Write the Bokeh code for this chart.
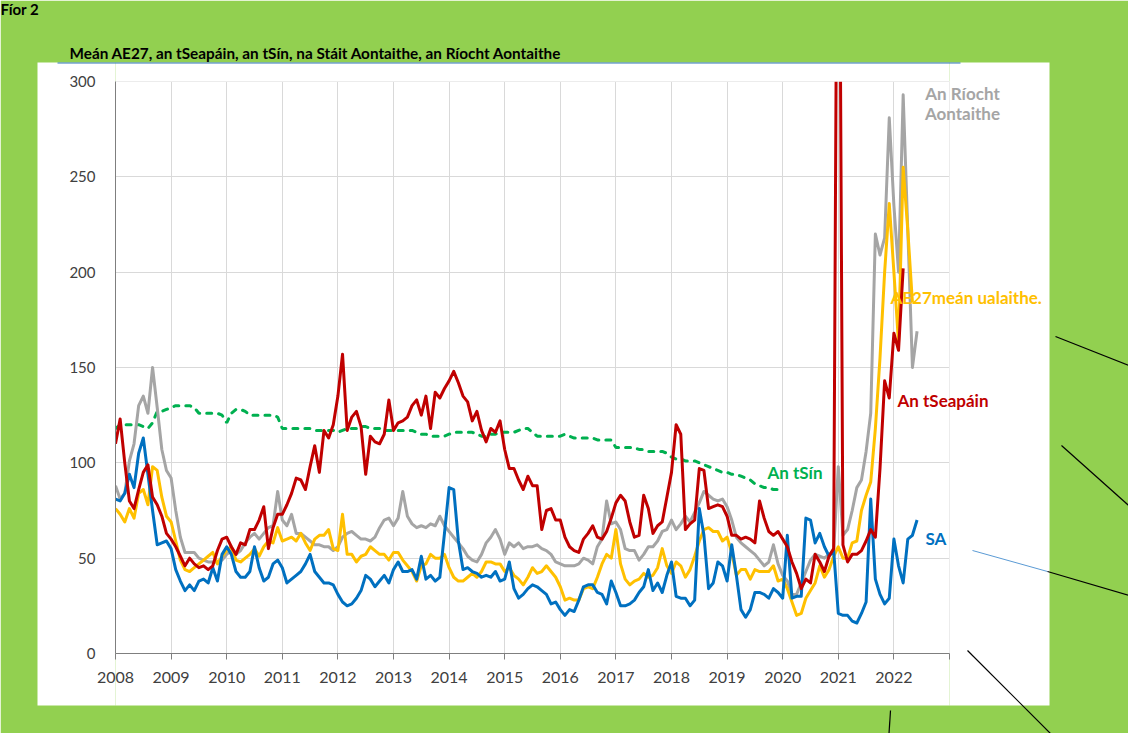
import numpy as np
from bokeh.plotting import figure
from bokeh.models import Range1d, FixedTicker
from bokeh.core.properties import value
from bokeh.embed import file_html
from bokeh.resources import INLINE

# ---------------- data (monthly, from Jan 2008) ----------------
START_YEAR = 2008
YEAR_TICKS = list(range(2008, 2024))
YEAR_LABELS = [str(y) for y in range(2008, 2023)] + [""]
Y_TICKS = [0, 50, 100, 150, 200, 250, 300]

japan = [110, 123, 100, 80, 76, 86, 95, 99, 82, 78, 72, 63, 60, 56, 51, 46, 50, 47, 45, 46,
         44, 46, 54, 60, 61, 56, 52, 58, 57, 65, 65, 70, 77, 55, 66, 73, 73, 78, 84, 92,
         91, 86, 98, 109, 95, 117, 113, 120, 135, 157, 117, 124, 127, 119, 94, 114, 111, 110, 115, 133,
         117, 121, 122, 124, 130, 133, 125, 135, 118, 137, 134, 139, 143, 148, 142, 135, 132, 122, 127, 117,
         111, 118, 116, 122, 107, 97, 97, 91, 86, 93, 88, 88, 65, 75, 76, 70, 70, 61, 56, 54,
         53, 60, 63, 67, 61, 60, 64, 71, 79, 83, 80, 69, 61, 62, 83, 76, 63, 67, 69, 82,
         95, 120, 115, 65, 68, 70, 97, 96, 76, 77, 78, 77, 72, 62, 62, 60, 61, 60, 58, 80,
         71, 64, 62, 64, 60, 56, 48, 42, 34, 39, 37, 52, 48, 43, 51, 55, 530, 57, 48, 52,
         52, 54, 59, 65, 61, 97, 143, 134, 168, 159, 202]

uk = [88, 81, 84, 101, 110, 130, 135, 126, 150, 129, 107, 96, 92, 75, 61, 53, 53, 53, 50, 49,
      48, 48, 48, 49, 52, 54, 52, 54, 58, 61, 63, 60, 63, 66, 67, 85, 70, 67, 73, 63,
      63, 61, 59, 57, 57, 56, 56, 54, 56, 61, 63, 64, 62, 60, 60, 59, 61, 66, 70, 71,
      67, 71, 85, 72, 68, 66, 67, 66, 68, 67, 72, 67, 64, 61, 58, 55, 51, 49, 48, 52,
      58, 61, 65, 60, 52, 58, 56, 58, 55, 56, 56, 57, 55, 54, 52, 48, 47, 46, 46, 46,
      47, 50, 49, 47, 56, 60, 80, 68, 69, 65, 55, 54, 54, 49, 52, 56, 56, 59, 64, 65,
      70, 65, 68, 72, 69, 74, 79, 85, 83, 81, 80, 81, 77, 70, 61, 58, 56, 54, 52, 49,
      46, 48, 57, 47, 41, 38, 31, 31, 37, 43, 49, 52, 51, 50, 52, 54, 98, 62, 65, 75,
      87, 91, 106, 126, 220, 209, 218, 281, 235, 200, 293, 222, 150, 169]

us = [81, 80, 84, 94, 87, 105, 113, 94, 75, 57, 58, 59, 55, 44, 38, 33, 36, 33, 38, 39,
      37, 45, 38, 52, 56, 52, 43, 40, 40, 43, 56, 45, 38, 40, 47, 49, 45, 37, 39, 41,
      43, 47, 52, 43, 40, 37, 37, 36, 31, 27, 25, 26, 29, 33, 41, 39, 35, 38, 41, 37,
      44, 48, 43, 43, 44, 39, 51, 39, 41, 38, 40, 63, 87, 86, 59, 44, 45, 43, 42, 40,
      41, 40, 43, 38, 39, 48, 34, 29, 31, 34, 36, 35, 33, 31, 26, 27, 23, 20, 23, 22,
      28, 35, 36, 36, 32, 31, 26, 38, 32, 25, 25, 26, 28, 32, 35, 44, 33, 37, 32, 41,
      48, 30, 29, 29, 25, 28, 76, 62, 34, 37, 48, 46, 38, 57, 41, 23, 19, 23, 32, 32,
      31, 29, 34, 32, 29, 62, 29, 30, 30, 71, 70, 58, 63, 56, 51, 54, 21, 20, 20, 17,
      16, 21, 27, 81, 39, 31, 26, 29, 60, 46, 37, 60, 62, 70]

eu = [76, 73, 69, 76, 71, 84, 86, 78, 98, 96, 82, 72, 69, 59, 49, 44, 43, 45, 47, 49,
      51, 53, 47, 51, 54, 56, 49, 48, 50, 52, 55, 51, 56, 59, 58, 66, 59, 60, 61, 59,
      63, 58, 54, 60, 62, 62, 65, 55, 54, 73, 52, 52, 48, 51, 52, 56, 54, 52, 52, 49,
      53, 53, 49, 46, 43, 38, 46, 47, 52, 50, 50, 52, 45, 40, 38, 38, 40, 42, 40, 43,
      48, 48, 47, 47, 43, 45, 41, 39, 36, 40, 45, 42, 43, 46, 43, 40, 35, 28, 29, 28,
      28, 34, 35, 34, 40, 47, 52, 50, 65, 47, 39, 36, 38, 39, 42, 40, 41, 45, 55, 46,
      42, 48, 46, 40, 44, 51, 59, 65, 66, 64, 64, 59, 61, 53, 41, 44, 44, 39, 44, 43,
      43, 43, 46, 38, 39, 34, 27, 20, 21, 29, 33, 37, 46, 40, 44, 51, 56, 50, 50, 58,
      59, 75, 83, 90, 118, 155, 200, 236, 200, 163, 255, 222, 184]

china = [118, 120, 120, 120, 120, 120, 119, 118, 121, 127, 127, 128, 129, 130, 130, 130, 130, 129, 126, 126,
         126, 126, 126, 125, 121, 126, 128, 128, 127, 125, 125, 125, 125, 125, 125, 124, 118, 118, 118, 118,
         118, 118, 118, 117, 117, 117, 117, 117, 116, 117, 118, 118, 118, 119, 119, 118, 118, 118, 117, 117,
         117, 117, 117, 117, 117, 116, 115, 115, 114, 114, 114, 114, 115, 116, 116, 116, 116, 116, 115, 114,
         114, 115, 115, 116, 116, 116, 116, 117, 118, 118, 116, 114, 114, 114, 114, 114, 114, 115, 114, 113,
         113, 113, 113, 113, 112, 112, 112, 112, 108, 108, 108, 108, 108, 107, 107, 106, 106, 106, 106, 105,
         103, 102, 102, 101, 101, 101, 100, 99, 98, 97, 96, 95, 95, 94, 94, 93, 92, 91, 89, 88,
         87, 87, 86, 86]


def months(series):
    return [START_YEAR + i / 12 for i in range(len(series))]


# ---------------- layout (reference pixel geometry) ----------------
W, H = 1128, 733
PAGE = 8
FR_L, FR_R, FR_T, FR_B = 123, 957, 89, 661
X0, X1 = 2008, 2023
Y0, Y1 = 0, 300


def dx(X):
    return X0 + (X - FR_L) * (X1 - X0) / (FR_R - FR_L)


def dy(Y):
    return Y0 + (FR_B - Y) * (Y1 - Y0) / (FR_B - FR_T)


GREEN_BG = "#92D050"
FONT = "Lato"

p = figure(width=W, height=H, output_backend="svg", toolbar_location=None,
           x_range=Range1d(X0, X1), y_range=Range1d(Y0, Y1),
           min_border_left=FR_L - PAGE, min_border_right=W - (FR_R - PAGE),
           min_border_top=FR_T - PAGE, min_border_bottom=H - (FR_B - PAGE),
           border_fill_color=GREEN_BG, background_fill_color="white",
           outline_line_color="#D9D9D9")

# white chart area around the frame (ring of four boxes, not clipped)
WL, WR, WT, WB = 45, 1057, 70, 713
p.quad(left=[dx(WL), dx(FR_R), dx(FR_L), dx(FR_L)],
       right=[dx(FR_L), dx(WR), dx(FR_R), dx(FR_R)],
       top=[dy(WT), dy(WT), dy(WT), dy(FR_B)],
       bottom=[dy(WB), dy(WB), dy(FR_T), dy(WB)],
       fill_color="white", line_color=None, level="guide")

# grids
p.xgrid.ticker = FixedTicker(ticks=YEAR_TICKS)
p.ygrid.ticker = FixedTicker(ticks=Y_TICKS)
for g in (p.xgrid, p.ygrid):
    g.grid_line_color = "#D9D9D9"
    g.grid_line_width = 1

# axes
xa = p.xaxis[0]
xa.ticker = FixedTicker(ticks=YEAR_TICKS)
xa.major_label_overrides = {t: lab for t, lab in zip(YEAR_TICKS, YEAR_LABELS)}
xa.axis_line_color = "#7F7F7F"
xa.major_tick_line_color = "#7F7F7F"
xa.major_tick_out = 6
xa.major_tick_in = 0
xa.minor_tick_line_color = None
xa.major_label_standoff = 12
xa.major_label_text_font = FONT
xa.major_label_text_font_size = "16px"
xa.major_label_text_color = "#404040"

ya = p.yaxis[0]
ya.ticker = FixedTicker(ticks=Y_TICKS)
ya.axis_line_color = "#7F7F7F"
ya.major_tick_line_color = None
ya.major_tick_out = 0
ya.major_tick_in = 0
ya.minor_tick_line_color = None
ya.major_label_standoff = 20
ya.major_label_text_font = FONT
ya.major_label_text_font_size = "15px"
ya.major_label_text_color = "#404040"

# series (default glyph level: clipped to the plot frame)
C_CN, C_UK, C_EU, C_US, C_JP = "#00B050", "#A5A5A5", "#FFC000", "#0070C0", "#C00000"
p.line(months(china), china, line_color=C_CN, line_width=3, line_dash="5 7", line_cap="round")
p.line(months(uk), uk, line_color=C_UK, line_width=3, line_join="round")
p.line(months(eu), eu, line_color=C_EU, line_width=3, line_join="round")
p.line(months(us), us, line_color=C_US, line_width=3, line_join="round")
p.line(months(japan), japan, line_color=C_JP, line_width=3, line_join="round")


def label(text, X, Y, color, size="17px", align="left", level="overlay"):
    p.text(x=[dx(X)], y=[dy(Y)], text=[text], text_color=color, text_font=value(FONT),
           text_font_size=value(size), text_font_style="bold", text_align=align,
           text_baseline="middle", level=level)


def seg(Xa, Ya, Xb, Yb, color="#000000", width=1.2):
    p.segment(x0=[dx(Xa)], y0=[dy(Ya)], x1=[dx(Xb)], y1=[dy(Yb)],
              line_color=color, line_width=width, level="overlay")


# titles
label("Fíor 2", 8, 16, "#000000", size="15px")
label("Meán AE27, an tSeapáin, an tSín, na Stáit Aontaithe, an Ríocht Aontaithe", 77, 60,
      "#000000", size="15.3px")
seg(65, 70.5, 968, 70.5, color="#2E75B6", width=1)

# series labels
label("An Ríocht", 970, 101, C_UK, align="center")
label("Aontaithe", 970, 121, C_UK, align="center")
label("AE27meán ualaithe.", 898, 305, C_EU)
label("An tSeapáin", 905, 408, C_JP)
label("An tSín", 775, 480, C_CN)
label("SA", 933, 546, C_US)

# stray connector strokes
seg(1063, 344, 1144, 376)
seg(1069, 453, 1144, 520)
seg(980, 558, 1055, 579, color="#5B9BD5", width=1)
seg(1055, 579, 1144, 605)
seg(975, 658, 1066, 749)
seg(898, 718, 896, 749)

open("out.html", "w").write(file_html(p, INLINE))
